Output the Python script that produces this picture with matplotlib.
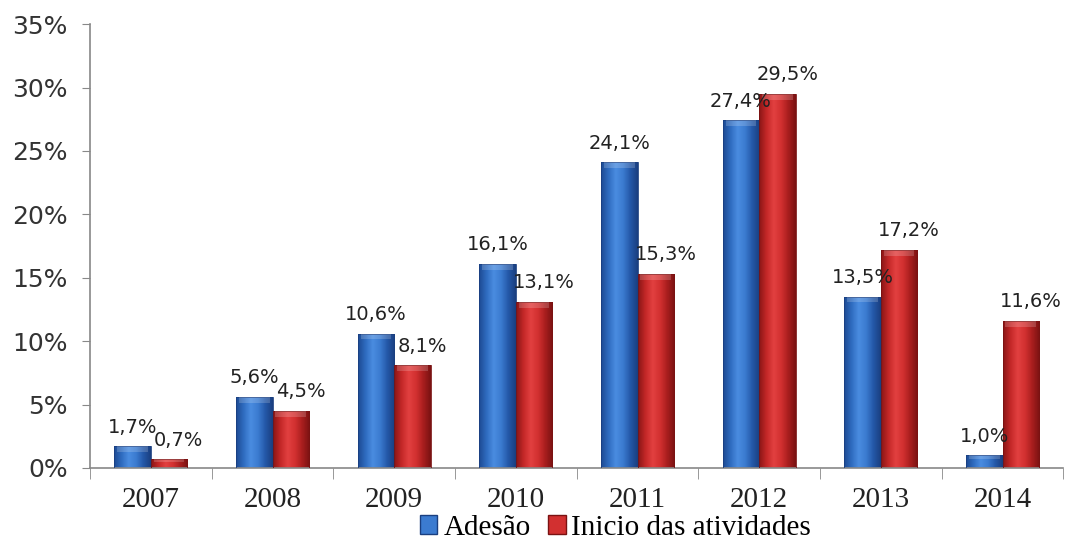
import numpy as np
import matplotlib.pyplot as plt
from matplotlib.colors import LinearSegmentedColormap
from matplotlib.patches import Rectangle, Patch

anos = ["2007", "2008", "2009", "2010", "2011", "2012", "2013", "2014"]
adesao = [1.7, 5.6, 10.6, 16.1, 24.1, 27.4, 13.5, 1.0]
inicio = [0.7, 4.5, 8.1, 13.1, 15.3, 29.5, 17.2, 11.6]
y_ticks = [0, 5, 10, 15, 20, 25, 30, 35]

fig = plt.figure(figsize=(10.65, 5.48), dpi=100)
ax = fig.add_axes([0.0845, 0.146, 0.914, 0.810])

x = np.arange(len(anos))
w = 0.3

blue_cmap = LinearSegmentedColormap.from_list(
    "azul", ["#1d4a93", "#2f6cc0", "#4a8ce0", "#3b7bd0", "#2458a8", "#1a3f80"])
red_cmap = LinearSegmentedColormap.from_list(
    "verm", ["#8a1616", "#c42828", "#e24040", "#d23030", "#a81e1e", "#7a1212"])
grad = np.linspace(0, 1, 64).reshape(1, -1)


def shaded_bars(xs, vals, cmap, edge):
    for xi, v in zip(xs, vals):
        left = xi - w / 2
        im = ax.imshow(grad, cmap=cmap, aspect="auto",
                       extent=[left, left + w, 0, v], zorder=2,
                       interpolation="bilinear")
        clip = Rectangle((left, 0), w, v, transform=ax.transData)
        im.set_clip_path(clip)
        ax.add_patch(Rectangle((left, 0), w, v, fill=False,
                               edgecolor=edge, lw=0.6, zorder=3))
        # lighter bevel at the top of each bar
        cap = min(0.45, v * 0.3)
        ax.add_patch(Rectangle((left + w * 0.08, v - cap), w * 0.84, cap,
                               facecolor="white", alpha=0.18, lw=0, zorder=3))


shaded_bars(x - w / 2, adesao, blue_cmap, "#1a3f80")
shaded_bars(x + w / 2, inicio, red_cmap, "#7a1212")

label_font = dict(fontsize=14, family="DejaVu Sans", color="#222222")
for xi, v in zip(x - w / 2, adesao):
    ax.text(xi, v + 0.75, f"{v:.1f}%".replace(".", ","), ha="center",
            va="bottom", zorder=4, **label_font)
for xi, v in zip(x + w / 2, inicio):
    ax.text(xi + 0.08, v + 0.75, f"{v:.1f}%".replace(".", ","), ha="center",
            va="bottom", zorder=4, **label_font)

ax.set_xlim(-0.5, len(anos) - 0.5)
ax.set_ylim(0, 35)
ax.set_yticks(y_ticks)
ax.set_yticklabels([f"{t}%" for t in y_ticks], fontsize=18,
                   family="DejaVu Sans", color="#333333")
ax.set_xticks(x)
ax.set_xticklabels(anos, fontsize=21, family="Liberation Serif",
                   color="#222222")
ax.set_xticks(np.arange(-0.5, len(anos), 1), minor=True)
ax.tick_params(axis="x", which="major", length=0, pad=14)
ax.tick_params(axis="x", which="minor", length=8, color="#888888",
               direction="out")
ax.tick_params(axis="y", length=6, color="#888888", direction="out", pad=10)

for s in ["top", "right"]:
    ax.spines[s].set_visible(False)
for s in ["left", "bottom"]:
    ax.spines[s].set_color("#888888")
    ax.spines[s].set_linewidth(1.2)

handles = [Patch(facecolor="#3b7bd0", edgecolor="#1a3f80", label="Adesão"),
           Patch(facecolor="#d23030", edgecolor="#7a1212",
                 label="Inicio das atividades")]
fig.legend(handles=handles, loc="lower center", bbox_to_anchor=(0.578, -0.035),
           ncol=2, frameon=False, handlelength=0.6, handleheight=0.6,
           handletextpad=0.2, columnspacing=0.6,
           prop=dict(family="Liberation Serif", size=21))

fig.savefig("out.png", dpi=100)
